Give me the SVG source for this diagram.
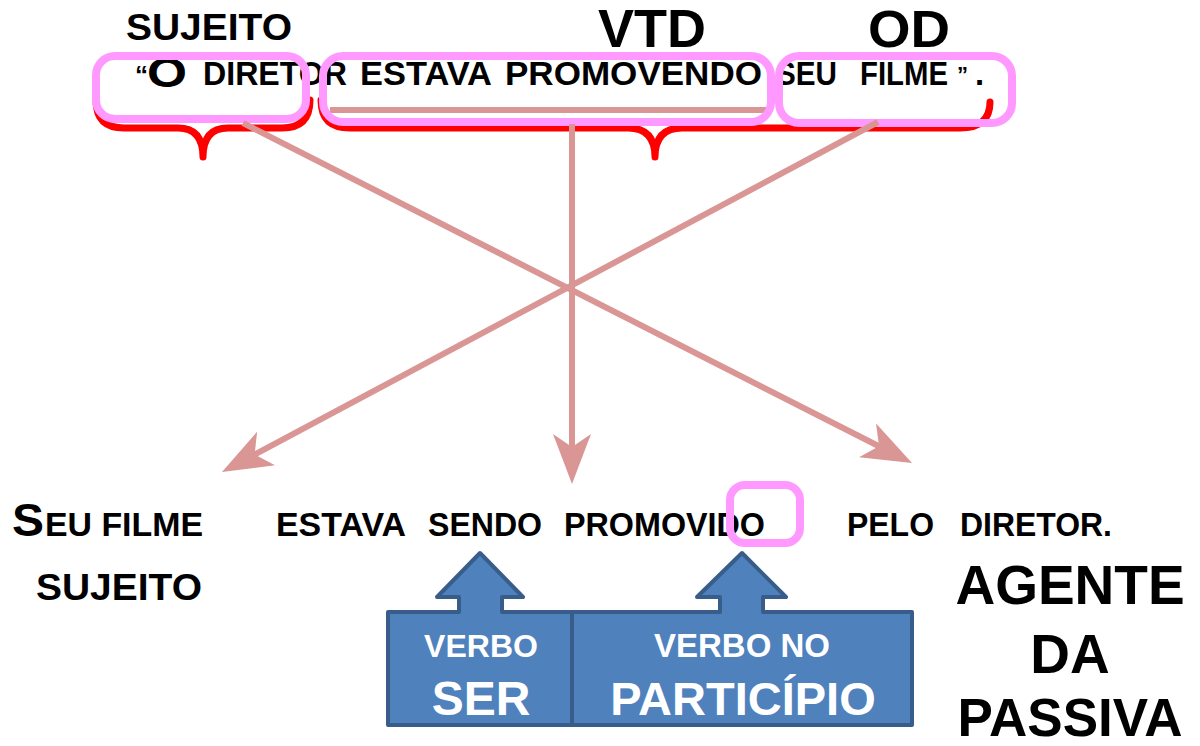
<svg xmlns="http://www.w3.org/2000/svg" width="1200" height="746" viewBox="0 0 1200 746">
<defs>
<style>
.t{font-family:"Liberation Sans",Arial,sans-serif;font-weight:bold;fill:#000}
.w{font-family:"Liberation Sans",Arial,sans-serif;font-weight:bold;fill:#fff;text-anchor:middle}
.brace{fill:none;stroke:#FF0000;stroke-width:7;stroke-linecap:round;stroke-linejoin:round}
.box{fill:none;stroke:#FF99FF;stroke-width:8}
.con{fill:none;stroke:#D99694;stroke-width:6}
.callout{fill:#4F81BD;stroke:#385D8A;stroke-width:4;stroke-linejoin:round}
</style>
<marker id="ah" viewBox="0 0 50 38" refX="40" refY="19" markerWidth="50" markerHeight="38" markerUnits="userSpaceOnUse" orient="auto">
<path d="M0,0 L50,19 L0,38 L13,19 Z" fill="#D99694"/>
</marker>
</defs>
<rect width="1200" height="746" fill="#fff"/>

<g id="labels-top">
<text class="t" x="126" y="40" font-size="37" textLength="166" lengthAdjust="spacingAndGlyphs">SUJEITO</text>
<text class="t" x="598" y="47" font-size="53" textLength="108" lengthAdjust="spacingAndGlyphs">VTD</text>
<text class="t" x="868" y="47" font-size="52" textLength="82" lengthAdjust="spacingAndGlyphs">OD</text>
</g>

<g id="braces">
<path class="brace" d="M96,100 Q96,128 124,128 L178,128 Q203,128 203,157 Q203,128 228,128 L282,128 Q310,128 310,100"/>
<path class="brace" d="M321,100 Q321,128 350,128 L628,128 Q655,128 655,157 Q655,128 682,128 L960,128 Q990,128 990,102"/>
</g>

<g id="sentence-top">
<text class="t" x="135" y="84" font-size="26" fill="#333">“</text>
<text class="t" x="147" y="87" font-size="42" textLength="40" lengthAdjust="spacingAndGlyphs">O</text>
<text class="t" x="203" y="85" font-size="33" textLength="144" lengthAdjust="spacingAndGlyphs">DIRETOR</text>
<text class="t" x="360" y="85" font-size="33" textLength="132" lengthAdjust="spacingAndGlyphs">ESTAVA</text>
<text class="t" x="505" y="85" font-size="33" textLength="257" lengthAdjust="spacingAndGlyphs">PROMOVENDO</text>
<text class="t" x="776" y="85" font-size="33" textLength="61" lengthAdjust="spacingAndGlyphs">SEU</text>
<text class="t" x="860" y="85" font-size="33" textLength="88" lengthAdjust="spacingAndGlyphs">FILME</text>
<text class="t" x="957" y="82" font-size="22">”</text>
<text class="t" x="975" y="85" font-size="33">.</text>
</g>

<g id="boxes-top">
<line class="con" x1="330" y1="110" x2="766" y2="110"/>
<rect id="box-sujeito" class="box" x="96" y="56" width="210" height="63" rx="19"/>
<rect id="box-vtd" class="box" x="323" y="56" width="448" height="66" rx="20"/>
<rect id="box-od" class="box" x="779" y="56" width="233" height="67" rx="20"/>
</g>

<g id="connectors">
<line class="con" x1="243" y1="123" x2="903.1" y2="458.5" marker-end="url(#ah)"/>
<line class="con" x1="878" y1="122" x2="230.8" y2="467.3" marker-end="url(#ah)"/>
<line class="con" x1="572" y1="124" x2="572" y2="474" marker-end="url(#ah)"/>
</g>

<g id="sentence-bottom">
<text class="t" x="12" y="536" font-size="47" textLength="32" lengthAdjust="spacingAndGlyphs">S</text>
<text class="t" x="45" y="536" font-size="33" textLength="158" lengthAdjust="spacingAndGlyphs">EU FILME</text>
<text class="t" x="276" y="536" font-size="33" textLength="130" lengthAdjust="spacingAndGlyphs">ESTAVA</text>
<text class="t" x="428" y="536" font-size="33" textLength="114" lengthAdjust="spacingAndGlyphs">SENDO</text>
<text class="t" x="564" y="536" font-size="33" textLength="201" lengthAdjust="spacingAndGlyphs">PROMOVIDO</text>
<text class="t" x="847" y="536" font-size="33" textLength="87" lengthAdjust="spacingAndGlyphs">PELO</text>
<text class="t" x="960" y="536" font-size="33" textLength="152" lengthAdjust="spacingAndGlyphs">DIRETOR.</text>
<rect id="box-do" class="box" x="730" y="485" width="70" height="58" rx="15" stroke-width="7"/>
</g>

<g id="sujeito-bottom">
<text class="t" x="36" y="600" font-size="37" textLength="166" lengthAdjust="spacingAndGlyphs">SUJEITO</text>
</g>

<g id="agente">
<text class="t" x="1070" y="604" font-size="55" text-anchor="middle">AGENTE</text>
<text class="t" x="1070" y="673" font-size="55" text-anchor="middle">DA</text>
<text class="t" x="1070" y="736" font-size="53" text-anchor="middle">PASSIVA</text>
</g>

<g id="callout-ser">
<path class="callout" d="M388,612 L459,612 L459,597 L437,597 L480,553 L523,597 L502,597 L502,612 L572,612 L572,725 L388,725 Z"/>
<text class="w" x="481" y="657" font-size="32">VERBO</text>
<text class="w" x="481" y="715" font-size="48">SER</text>
</g>

<g id="callout-participio">
<path class="callout" d="M572,612 L720,612 L720,597 L697,597 L742,553 L786,597 L763,597 L763,612 L912,612 L912,725 L572,725 Z"/>
<text class="w" x="742" y="657" font-size="33">VERBO NO</text>
<text class="w" x="743" y="715" font-size="47">PARTICÍPIO</text>
</g>
</svg>
